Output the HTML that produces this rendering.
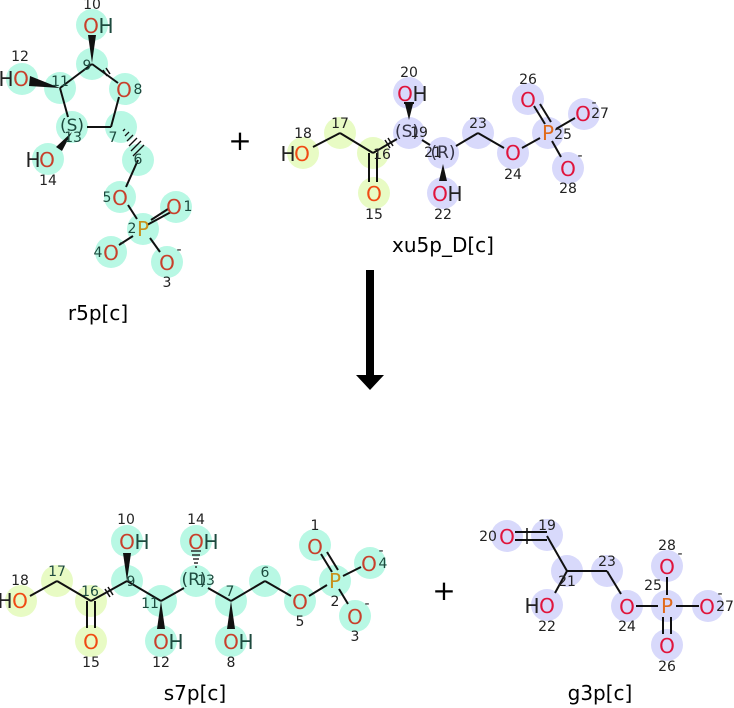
<!DOCTYPE html>
<html><head><meta charset="utf-8"><style>
html,body{margin:0;padding:0;background:#fff;}
svg{display:block;font-family:"DejaVu Sans","Liberation Sans",sans-serif;}
.a{font-size:20px;text-anchor:middle;dominant-baseline:central;}
.n{font-size:14px;text-anchor:middle;dominant-baseline:central;}
.t{fill:#1d4a3e}
.k{fill:#222}
.b line,.b polyline{stroke:#111;stroke-width:2;fill:none}
.g circle{fill:#b8f8e4}
.y circle{fill:#e8fbc4}
.l circle{fill:#d8d9fb}
.or{fill:#c8402c}.oc{fill:#e0143c}.oo{fill:#f04a14}.p{fill:#c8901c}.pp{fill:#e06a1c}
.lab{font-size:20px;text-anchor:middle}
</style></head><body>
<svg width="734" height="708" viewBox="0 0 734 708" xmlns="http://www.w3.org/2000/svg">
<!-- r5p circles -->
<g class="g">
<circle cx="92" cy="25" r="16"/><circle cx="92" cy="64" r="16"/><circle cx="125" cy="89" r="16"/>
<circle cx="60" cy="88" r="16"/><circle cx="121" cy="127" r="16"/><circle cx="72" cy="127" r="16"/>
<circle cx="22" cy="79" r="16"/><circle cx="48" cy="159" r="16"/><circle cx="138" cy="160" r="16"/>
<circle cx="120" cy="197" r="16"/><circle cx="143" cy="229" r="16"/><circle cx="176" cy="207" r="16"/>
<circle cx="111" cy="252" r="16"/><circle cx="167" cy="262" r="16"/>
</g>
<g class="b">
<line x1="92" y1="64" x2="60" y2="88"/><line x1="92" y1="64" x2="118" y2="83"/>
<line x1="119" y1="97" x2="111" y2="127"/><line x1="87" y1="127" x2="111" y2="127"/>
<line x1="68" y1="117" x2="60" y2="88"/>
<line x1="138" y1="160" x2="126" y2="187"/><line x1="128" y1="205" x2="137" y2="219"/>
<line x1="151" y1="220" x2="168" y2="209"/><line x1="147" y1="225" x2="171" y2="212"/>
<line x1="133" y1="236" x2="119" y2="245"/><line x1="150" y1="238" x2="160" y2="252"/>
<line x1="103" y1="70" x2="107" y2="76" style="stroke-width:1.5"/><line x1="106" y1="68" x2="110" y2="74" style="stroke-width:1.5"/>
</g>
<polygon points="92,63 88,35 96,35" fill="#111"/>
<polygon points="60,88 30,76 29,86" fill="#111"/>
<polygon points="72,132 56,147 62,151" fill="#111"/>
<g stroke="#111" stroke-width="1.3">
<line x1="123" y1="131" x2="125" y2="129"/><line x1="125" y1="136" x2="129" y2="132"/><line x1="127" y1="141" x2="133" y2="135"/><line x1="129" y1="146" x2="137" y2="138"/><line x1="131" y1="151" x2="141" y2="141"/><line x1="133" y1="156" x2="144" y2="145"/>
</g>
<text class="a or" x="91" y="26">O</text><text class="a t" x="106" y="26">H</text><text class="n k" x="92" y="5">10</text>
<text class="n t" x="87" y="66">9</text>
<text class="a or" x="124" y="90">O</text><text class="n t" x="138" y="90">8</text>
<text class="n t" x="60" y="82">11</text>
<text class="a or" x="21" y="79">O</text><text class="a k" x="6" y="79">H</text><text class="n k" x="20" y="57">12</text>
<text class="a t" x="72" y="126" style="font-size:17px">(S)</text><text class="n t" x="73" y="138">13</text>
<text class="n t" x="113" y="138">7</text><text class="n t" x="138" y="160">6</text>
<text class="a or" x="47" y="160">O</text><text class="a k" x="33" y="160">H</text><text class="n k" x="48" y="181">14</text>
<text class="a or" x="120" y="198">O</text><text class="n t" x="107" y="198">5</text>
<text class="a p" x="143" y="229">P</text><text class="n t" x="132" y="229">2</text>
<text class="a or" x="174" y="207">O</text><text class="n t" x="188" y="207">1</text>
<text class="a or" x="111" y="253">O</text><text class="n t" x="98" y="253">4</text><text class="n k" x="122" y="243">-</text>
<text class="a or" x="167" y="263">O</text><text class="n k" x="179" y="250">-</text><text class="n k" x="167" y="283">3</text>
<text class="lab" x="98" y="320">r5p[c]</text>

<text x="240" y="150" style="font-size:28px;text-anchor:middle">+</text>

<!-- xu5p -->
<g class="y"><circle cx="303" cy="153" r="16"/><circle cx="340" cy="133" r="16"/><circle cx="373" cy="153" r="16"/><circle cx="374" cy="193" r="16"/></g>
<g class="l"><circle cx="409" cy="93" r="16"/><circle cx="409" cy="133" r="16"/><circle cx="443" cy="153" r="16"/><circle cx="443" cy="193" r="16"/><circle cx="478" cy="133" r="16"/><circle cx="513" cy="153" r="16"/><circle cx="548" cy="133" r="16"/><circle cx="528" cy="99" r="16"/><circle cx="584" cy="114" r="16"/><circle cx="568" cy="168" r="16"/></g>
<g class="b">
<line x1="313" y1="147" x2="340" y2="133"/><line x1="340" y1="133" x2="373" y2="153"/><line x1="373" y1="153" x2="397" y2="139"/>
<line x1="369" y1="153" x2="369" y2="182"/><line x1="377" y1="153" x2="377" y2="182"/>
<line x1="422" y1="140" x2="430" y2="145"/><line x1="456" y1="146" x2="478" y2="133"/><line x1="478" y1="133" x2="504" y2="148"/>
<line x1="522" y1="148" x2="540" y2="138"/><line x1="545" y1="124" x2="534" y2="106"/><line x1="551" y1="122" x2="540" y2="104"/>
<line x1="556" y1="129" x2="575" y2="118"/><line x1="552" y1="141" x2="561" y2="157"/>
<line x1="385" y1="140" x2="390" y2="148" style="stroke-width:1.5"/><line x1="388" y1="138" x2="393" y2="146" style="stroke-width:1.5"/>
</g>
<polygon points="409,120 405,104 413,104" fill="#111"/><line x1="404" y1="103" x2="414" y2="103" stroke="#111" stroke-width="2"/>
<polygon points="443,164 439,181 447,181" fill="#111"/>
<text class="a oo" x="302" y="154">O</text><text class="a k" x="288" y="154">H</text><text class="n k" x="303" y="134">18</text>
<text class="n k" x="340" y="124">17</text><text class="n k" x="382" y="155">16</text>
<text class="a oo" x="374" y="194">O</text><text class="n k" x="374" y="215">15</text>
<text class="a oc" x="405" y="94">O</text><text class="a k" x="420" y="94">H</text><text class="n k" x="409" y="73">20</text>
<text class="a" x="407" y="132" style="font-size:17px;fill:#334">(S)</text><text class="n k" x="419" y="133">19</text>
<text class="a" x="443" y="153" style="font-size:17px;fill:#334">(R)</text><text class="n k" x="433" y="153">21</text>
<text class="a oc" x="440" y="194">O</text><text class="a k" x="455" y="194">H</text><text class="n k" x="443" y="215">22</text>
<text class="n k" x="478" y="124">23</text>
<text class="a oc" x="513" y="153">O</text><text class="n k" x="513" y="175">24</text>
<text class="a pp" x="548" y="133">P</text><text class="n k" x="563" y="135">25</text>
<text class="a oc" x="528" y="100">O</text><text class="n k" x="528" y="80">26</text>
<text class="a oc" x="583" y="114">O</text><text class="n k" x="600" y="114">27</text><text class="n k" x="594" y="103">-</text>
<text class="a oc" x="568" y="169">O</text><text class="n k" x="580" y="156">-</text><text class="n k" x="568" y="189">28</text>
<text class="lab" x="443" y="252">xu5p_D[c]</text>

<rect x="366" y="270" width="8" height="106" fill="#000"/>
<polygon points="356,375 384,375 370,390" fill="#000"/>

<!-- s7p -->
<g class="y"><circle cx="21" cy="601" r="16"/><circle cx="57" cy="581" r="16"/><circle cx="91" cy="601" r="16"/><circle cx="91" cy="641" r="16"/></g>
<g class="g"><circle cx="127" cy="541" r="16"/><circle cx="127" cy="581" r="16"/><circle cx="161" cy="601" r="16"/><circle cx="161" cy="641" r="16"/><circle cx="196" cy="541" r="16"/><circle cx="196" cy="581" r="16"/><circle cx="231" cy="601" r="16"/><circle cx="231" cy="641" r="16"/><circle cx="265" cy="581" r="16"/><circle cx="300" cy="601" r="16"/><circle cx="335" cy="581" r="16"/><circle cx="315" cy="545" r="16"/><circle cx="370" cy="563" r="16"/><circle cx="355" cy="616" r="16"/></g>
<g class="b">
<line x1="30" y1="596" x2="57" y2="581"/><line x1="57" y1="581" x2="91" y2="601"/><line x1="91" y1="601" x2="127" y2="581"/>
<line x1="87" y1="601" x2="87" y2="628"/><line x1="95" y1="601" x2="95" y2="628"/>
<line x1="127" y1="581" x2="161" y2="601"/><line x1="161" y1="601" x2="184" y2="588"/><line x1="208" y1="588" x2="231" y2="601"/>
<line x1="231" y1="601" x2="265" y2="581"/><line x1="265" y1="581" x2="291" y2="596"/><line x1="309" y1="596" x2="327" y2="585"/>
<line x1="332" y1="572" x2="321" y2="554"/><line x1="338" y1="570" x2="327" y2="552"/>
<line x1="343" y1="576" x2="361" y2="567"/><line x1="339" y1="589" x2="348" y2="604"/>
<line x1="105" y1="589" x2="110" y2="597" style="stroke-width:1.5"/><line x1="108" y1="587" x2="113" y2="595" style="stroke-width:1.5"/>
</g>
<polygon points="127,581 123,553 131,553" fill="#111"/>
<polygon points="161,601 157,629 165,629" fill="#111"/>
<polygon points="231,601 227,629 235,629" fill="#111"/>
<g stroke="#111" stroke-width="1.3">
<line x1="195" y1="567" x2="197" y2="567"/><line x1="194" y1="563" x2="198" y2="563"/><line x1="193" y1="559" x2="199" y2="559"/><line x1="192" y1="555" x2="200" y2="555"/><line x1="191" y1="551" x2="201" y2="551"/>
</g>
<text class="a oo" x="20" y="601">O</text><text class="a k" x="5" y="601">H</text><text class="n k" x="20" y="581">18</text>
<text class="n t" x="57" y="572">17</text><text class="n t" x="90" y="592">16</text>
<text class="a oo" x="91" y="642">O</text><text class="n k" x="91" y="663">15</text>
<text class="a or" x="127" y="542">O</text><text class="a t" x="142" y="542">H</text><text class="n k" x="126" y="520">10</text>
<text class="n t" x="131" y="582">9</text><text class="n t" x="150" y="604">11</text>
<text class="a or" x="161" y="642">O</text><text class="a t" x="176" y="642">H</text><text class="n k" x="161" y="663">12</text>
<text class="a or" x="196" y="542">O</text><text class="a t" x="211" y="542">H</text><text class="n k" x="196" y="520">14</text>
<text class="a t" x="194" y="580" style="font-size:17px">(R)</text><text class="n t" x="206" y="581">13</text>
<text class="n t" x="230" y="592">7</text>
<text class="a or" x="231" y="642">O</text><text class="a t" x="246" y="642">H</text><text class="n k" x="231" y="663">8</text>
<text class="n t" x="265" y="573">6</text>
<text class="a or" x="300" y="602">O</text><text class="n k" x="300" y="622">5</text>
<text class="a p" x="335" y="581">P</text><text class="n k" x="335" y="602">2</text>
<text class="a or" x="315" y="547">O</text><text class="n k" x="315" y="526">1</text>
<text class="a or" x="369" y="564">O</text><text class="n t" x="383" y="564">4</text><text class="n k" x="381" y="551">-</text>
<text class="a or" x="355" y="617">O</text><text class="n k" x="367" y="604">-</text><text class="n k" x="355" y="637">3</text>
<text class="lab" x="195" y="700">s7p[c]</text>

<text x="444" y="600" style="font-size:28px;text-anchor:middle">+</text>

<!-- g3p -->
<g class="l"><circle cx="507" cy="536" r="16"/><circle cx="547" cy="535" r="16"/><circle cx="567" cy="571" r="16"/><circle cx="547" cy="605" r="16"/><circle cx="607" cy="571" r="16"/><circle cx="627" cy="606" r="16"/><circle cx="667" cy="606" r="16"/><circle cx="667" cy="566" r="16"/><circle cx="708" cy="606" r="16"/><circle cx="667" cy="645" r="16"/></g>
<g class="b">
<line x1="515" y1="532" x2="547" y2="532"/><line x1="515" y1="540" x2="547" y2="540"/><line x1="527" y1="528" x2="527" y2="544" style="stroke-width:1.5"/>
<line x1="547" y1="536" x2="567" y2="571"/><line x1="567" y1="571" x2="607" y2="571"/><line x1="567" y1="571" x2="555" y2="593"/>
<line x1="607" y1="571" x2="621" y2="594"/><line x1="636" y1="606" x2="658" y2="606"/><line x1="676" y1="606" x2="699" y2="606"/>
<line x1="667" y1="577" x2="667" y2="595"/><line x1="663" y1="617" x2="663" y2="634"/><line x1="671" y1="617" x2="671" y2="634"/>
</g>
<text class="a oc" x="507" y="537">O</text><text class="n k" x="488" y="537">20</text><text class="n k" x="547" y="526">19</text>
<text class="n k" x="567" y="582">21</text>
<text class="a oc" x="547" y="606">O</text><text class="a k" x="532" y="606">H</text><text class="n k" x="547" y="627">22</text>
<text class="n k" x="607" y="562">23</text>
<text class="a oc" x="627" y="607">O</text><text class="n k" x="627" y="627">24</text>
<text class="a pp" x="667" y="606">P</text><text class="n k" x="653" y="586">25</text>
<text class="a oc" x="667" y="567">O</text><text class="n k" x="667" y="546">28</text><text class="n k" x="680" y="554">-</text>
<text class="a oc" x="707" y="607">O</text><text class="n k" x="725" y="607">27</text><text class="n k" x="720" y="594">-</text>
<text class="a oc" x="667" y="646">O</text><text class="n k" x="667" y="667">26</text>
<text class="lab" x="600" y="700">g3p[c]</text>
</svg>
</body></html>
